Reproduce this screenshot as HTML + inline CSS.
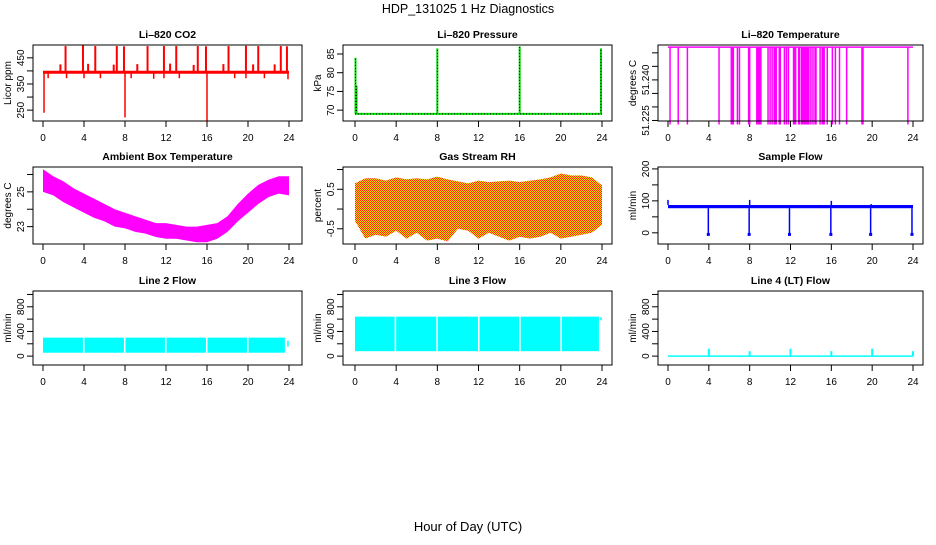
<!DOCTYPE html>
<html><head><meta charset="utf-8"><style>
body{margin:0;background:#fff}
svg text{font-family:"Liberation Sans",sans-serif;fill:#000}
</style></head><body>
<svg id="c" width="936" height="540" viewBox="0 0 936 540" xmlns="http://www.w3.org/2000/svg">
<defs>
<pattern id="rhpat" width="2" height="2" patternUnits="userSpaceOnUse"><rect width="2" height="2" fill="#ffd800"/><rect width="1" height="1" fill="#ff2a00"/><rect x="1" y="1" width="1" height="1" fill="#ff2a00"/></pattern>
</defs>
<text x="468" y="13" font-size="12.5" text-anchor="middle">HDP_131025  1 Hz Diagnostics</text>
<text x="468" y="531" font-size="13" text-anchor="middle">Hour of Day (UTC)</text>
</svg>
<script>
// ---- data ----
const xTicks = [0,4,8,12,16,20,24];
// CO2
const co2Base = 395;
const co2SpikeHours = [2.2,3.9,5.1,7.2,7.9,10.2,11.8,13.0,15.1,15.9,18.1,19.8,21.0,23.2,23.8];
const co2SpikeVals  = [495,497,495,495,494,495,495,495,495,494,495,496,495,495,494];
const co2MidHours = [1.7,4.4,6.9,9.2,12.4,14.7,17.6,20.5,22.6];
const co2MidVals  = [425,427,424,426,428,423,426,425,425];
const co2DipHours = [0.1,0.5,2.3,4.0,5.6,8.0,8.6,10.8,11.8,13.3,16.0,18.7,19.8,21.6,23.9];
const co2DipVals  = [240,372,372,372,372,222,372,370,372,372,205,372,372,372,368];
// Pressure
const presBase = 69;
const presSpikeHours = [0.05,0.15,8.0,16.0,23.9];
const presSpikeVals  = [84,76.5,86.5,87,86.5];
// Li-820 temperature
const tempTop = 51.2521;
const tempLow = 51.2235;
const tempDropHours = [0.2,1.0,1.9,5.0,6.2,6.3,6.4,6.8,7.0,7.9,8.0,8.7,8.8,8.9,9.0,9.1,9.8,10.0,10.2,10.4,10.5,10.6,10.9,11.0,11.4,11.6,11.8,12.3,12.4,12.5,12.8,12.9,13.1,13.2,13.3,13.4,13.5,13.6,13.7,13.8,14.0,14.2,14.4,14.5,14.9,15.1,15.2,15.3,15.6,16.1,16.4,16.8,17.5,19.0,19.1,23.5];
// Ambient box temperature
const ambHours = [0,1,2,3,4,5,6,7,8,9,10,11,12,13,14,15,16,17,18,19,20,21,22,23,24];
const ambHigh = [26.3,25.9,25.6,25.2,24.9,24.6,24.3,24.0,23.8,23.6,23.4,23.2,23.2,23.1,23.0,23.0,23.1,23.2,23.6,24.3,24.9,25.4,25.7,25.9,25.9];
const ambLow  = [25.0,24.8,24.4,24.1,23.8,23.5,23.3,23.0,22.9,22.7,22.6,22.4,22.3,22.3,22.2,22.1,22.1,22.3,22.7,23.3,23.8,24.3,24.7,24.9,24.8];
// RH
const rhHours = [0,1,2,3,4,5,6,7,8,9,10,11,12,13,14,15,16,17,18,19,20,21,22,23,24];
const rhHigh = [0.65,0.78,0.78,0.72,0.8,0.75,0.78,0.75,0.82,0.75,0.7,0.65,0.72,0.68,0.7,0.72,0.68,0.72,0.75,0.8,0.9,0.85,0.85,0.8,0.6];
const rhLow  = [-0.3,-0.75,-0.65,-0.7,-0.55,-0.75,-0.6,-0.8,-0.75,-0.82,-0.5,-0.55,-0.75,-0.6,-0.7,-0.8,-0.7,-0.75,-0.7,-0.6,-0.75,-0.7,-0.65,-0.6,-0.4];
// Sample flow
const sfLow = 77, sfHigh = 87;
const sfDipHours = [3.95,7.95,11.9,15.95,19.85,23.9];
const sfDipVals  = [-5,-5,-5,-5,-5,-5];
const sfUpHours = [0.0,8.0,16.0,19.9];
const sfUpVals  = [103,103,100,90];
// Line flows
const l2Segments = [[0,3.9],[4.05,7.9],[8.05,11.9],[12.05,15.9],[16.05,19.9],[20.05,23.6]];
const l2Low = 55, l2High = 300;
const l3Segments = [[0,3.85],[4.0,7.9],[8.05,11.95],[12.1,15.95],[16.1,19.95],[20.1,23.7]];
const l3Low = 80, l3High = 640;
const l4Base = 0;
const l4SpikeHours = [4.0,8.0,12.0,16.0,20.0,24.0];
const l4SpikeVals  = [120,80,120,80,120,80];

// ---- layout ----
const svg = document.getElementById('c');
const NS = 'http://www.w3.org/2000/svg';
function el(tag, attrs, parent){const e=document.createElementNS(NS,tag);for(const k in attrs)e.setAttribute(k,attrs[k]);(parent||svg).appendChild(e);return e;}
const cols = [{l:33,r:302,x0:43,x24:289},{l:343,r:612,x0:355,x24:602},{l:658,r:923,x0:668,x24:913}];
const rows = [{t:45,b:121},{t:167,b:244},{t:291,b:365}];
function panel(ci,ri,title,ylab,ymin,ymax,ticks,labels,name){
  const c=cols[ci], r=rows[ri];
  const g=el('g',{});
  
  
  const X=h=>c.x0+(c.x24-c.x0)*h/24;
  const Y=v=>r.b-(v-ymin)/(ymax-ymin)*(r.b-r.t);
  const t=el('text',{x:(c.l+c.r)/2,y:r.t-7,'font-size':10.5,'font-weight':'bold','text-anchor':'middle'},g);t.textContent=title;
  
  
  const yl=el('text',{transform:`translate(${c.l-22},${(r.t+r.b)/2}) rotate(-90)`,'font-size':10,'text-anchor':'middle'},g);yl.textContent=ylab;
  
  
  el('line',{x1:X(0),x2:X(24),y1:r.b,y2:r.b,stroke:'#000'},g);
  xTicks.forEach(h=>{el('line',{x1:X(h),x2:X(h),y1:r.b,y2:r.b+6,stroke:'#000'},g);
    const tx=el('text',{x:X(h),y:r.b+20,'font-size':10,'text-anchor':'middle'},g);tx.textContent=h;
    
    });
  ticks.forEach(v=>el('line',{x1:c.l-6,x2:c.l,y1:Y(v),y2:Y(v),stroke:'#000'},g));
  labels.forEach(v=>{const ty=el('text',{transform:`translate(${c.l-9},${Y(v)}) rotate(-90)`,'font-size':10,'text-anchor':'middle'},g);ty.textContent=v;
    
    });
  const plot=el('g',{},g);
  el('rect',{x:c.l,y:r.t,width:c.r-c.l,height:r.b-r.t,fill:'none',stroke:'#000'},g);
  return {X,Y,plot};
}
function vline(p,h,v1,v2,col,w){return el('line',{x1:p.X(h),x2:p.X(h),y1:p.Y(v1),y2:p.Y(v2),stroke:col,'stroke-width':w||1.5},p.plot);}

// CO2
let p=panel(0,0,'Li–820 CO2','Licor ppm',208.5,499,[250,300,350,400,450],['250','350','450'],'co2');
co2SpikeHours.forEach((h,i)=>vline(p,h,co2Base,co2SpikeVals[i],'#f00',2));
co2MidHours.forEach((h,i)=>vline(p,h,co2Base,co2MidVals[i],'#f00',2));
co2DipHours.forEach((h,i)=>vline(p,h,co2Base,co2DipVals[i],'#f00',1.5));
el('line',{x1:p.X(0),x2:p.X(24),y1:p.Y(co2Base),y2:p.Y(co2Base),stroke:'#f00','stroke-width':3},p.plot);

// Pressure
p=panel(1,0,'Li–820 Pressure','kPa',67.1,87.4,[70,75,80,85],['70','75','80','85'],'pressure');
presSpikeHours.forEach((h,i)=>{vline(p,h,presBase,presSpikeVals[i],'#0d0',2);vline(p,h,presBase,presSpikeVals[i],'#000',1).setAttribute('stroke-dasharray','1 2');});
el('line',{x1:p.X(0),x2:p.X(24),y1:p.Y(presBase),y2:p.Y(presBase),stroke:'#0d0','stroke-width':2},p.plot);
el('line',{x1:p.X(0),x2:p.X(24),y1:p.Y(presBase),y2:p.Y(presBase),stroke:'#000','stroke-width':1,'stroke-dasharray':'1 2'},p.plot);

// Li-820 temperature
p=panel(2,0,'Li–820 Temperature','degrees C',51.2248,51.2529,[51.225,51.23,51.235,51.24,51.245,51.25],['51.225','51.240'],'li820-temp');
tempDropHours.forEach(h=>vline(p,h,tempTop,tempLow,'#f0f',1.5));
el('line',{x1:p.X(0),x2:p.X(24),y1:p.Y(tempTop),y2:p.Y(tempTop),stroke:'#f0f','stroke-width':1.5},p.plot);

// Ambient
p=panel(0,1,'Ambient Box Temperature','degrees C',22.0,26.43,[23,24,25,26],['23','25'],'ambient-temp');
{let pts=ambHours.map((h,i)=>p.X(h)+','+p.Y(ambHigh[i])).concat(ambHours.slice().reverse().map((h,j)=>{const i=ambHours.length-1-j;return p.X(h)+','+p.Y(ambLow[i]);}));
el('polygon',{points:pts.join(' '),fill:'#f0f'},p.plot);}

// RH
p=panel(1,1,'Gas Stream RH','percent',-0.885,1.064,[-0.5,0,0.5,1.0],['-0.5','0.5'],'rh');
{let pts=rhHours.map((h,i)=>p.X(h)+','+p.Y(rhHigh[i])).concat(rhHours.slice().reverse().map((h,j)=>{const i=rhHours.length-1-j;return p.X(h)+','+p.Y(rhLow[i]);}));
el('polygon',{points:pts.join(' '),fill:'url(#rhpat)'},p.plot);}

// Sample flow
p=panel(2,1,'Sample Flow','ml/min',-35,206,[0,50,100,150,200],['0','100','200'],'sample-flow');
el('rect',{x:p.X(0),y:p.Y(sfHigh),width:p.X(24)-p.X(0),height:p.Y(sfLow)-p.Y(sfHigh),fill:'#00f'},p.plot);
sfDipHours.forEach((h,i)=>{vline(p,h,sfLow,sfDipVals[i],'#00f',1.5);el('rect',{x:p.X(h)-1.5,y:p.Y(sfDipVals[i])-1.5,width:3,height:3,fill:'#00f'},p.plot);});
sfUpHours.forEach((h,i)=>vline(p,h,sfHigh,sfUpVals[i],'#00f',1.5));

// Line 2
p=panel(0,2,'Line 2 Flow','ml/min',-144,1056,[0,200,400,600,800,1000],['0','400','800'],'line2-flow');
l2Segments.forEach(s=>el('rect',{x:p.X(s[0]),y:p.Y(l2High),width:p.X(s[1])-p.X(s[0]),height:p.Y(l2Low)-p.Y(l2High),fill:'#0ff'},p.plot));
vline(p,23.9,l2Low+100,250,'#0ff',1.5);
// Line 3
p=panel(1,2,'Line 3 Flow','ml/min',-144,1056,[0,200,400,600,800,1000],['0','400','800'],'line3-flow');
l3Segments.forEach(s=>el('rect',{x:p.X(s[0]),y:p.Y(l3High),width:p.X(s[1])-p.X(s[0]),height:p.Y(l3Low)-p.Y(l3High),fill:'#0ff'},p.plot));
vline(p,23.9,l3High-60,l3High-10,'#0ff',1.5);
// Line 4
p=panel(2,2,'Line 4 (LT) Flow','ml/min',-144,1056,[0,200,400,600,800,1000],['0','400','800'],'line4-flow');
el('line',{x1:p.X(0),x2:p.X(24),y1:p.Y(l4Base),y2:p.Y(l4Base),stroke:'#0ff','stroke-width':1.5},p.plot);
l4SpikeHours.forEach((h,i)=>vline(p,h,l4Base,l4SpikeVals[i],'#0ff',2));
</script>
</body></html>
